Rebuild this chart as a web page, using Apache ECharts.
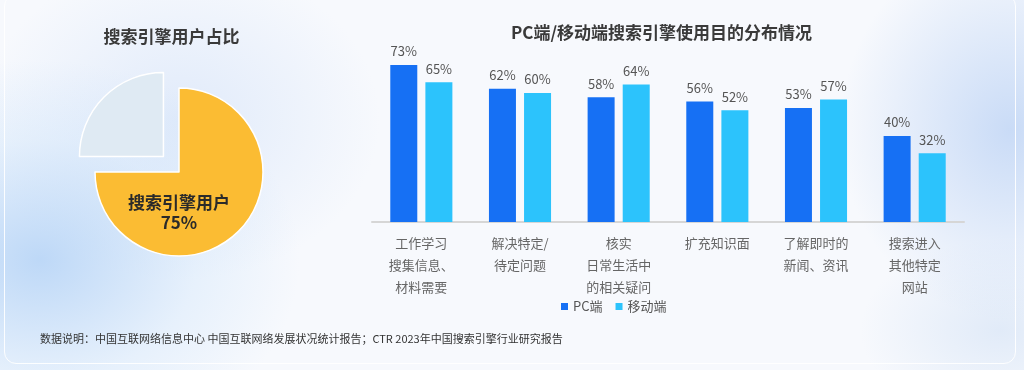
<!DOCTYPE html>
<html>
<head>
<meta charset="utf-8">
<script src="https://cdn.jsdelivr.net/npm/echarts@6/dist/echarts.min.js"></script>
<style>
html,body{margin:0;padding:0;width:1024px;height:370px;overflow:hidden;}
body{
  background:
    radial-gradient(ellipse 260px 200px at 40px 260px, rgba(170,205,245,0.75), rgba(200,225,250,0.35) 60%, rgba(255,255,255,0) 100%),
    radial-gradient(ellipse 200px 160px at 180px 120px, rgba(205,222,248,0.55), rgba(255,255,255,0) 100%),
    radial-gradient(ellipse 170px 190px at 1010px 130px, rgba(190,212,245,0.8), rgba(255,255,255,0) 100%),
    radial-gradient(ellipse 140px 90px at 1000px 330px, rgba(210,225,245,0.6), rgba(255,255,255,0) 100%),
    #f7f9fd;
}
#card{position:absolute;left:4px;top:-6px;width:1012px;height:370px;border:1px solid rgba(255,255,255,0.9);border-radius:12px;box-sizing:border-box;}
#chart{position:absolute;left:0;top:0;width:1024px;height:370px;}
</style>
</head>
<body>
<div id="card"></div>
<div id="chart"></div>
<script>
// ---- data ----
const pieTitle = '搜索引擎用户占比';
const pieNames = ['搜索引擎用户', '其他'];
const pieValues = [75, 25];

const barTitle = 'PC端/移动端搜索引擎使用目的分布情况';
const categories = [
  '工作学习\n搜集信息、\n材料需要',
  '解决特定/\n待定问题',
  '核实\n日常生活中\n的相关疑问',
  '扩充知识面',
  '了解即时的\n新闻、资讯',
  '搜索进入\n其他特定\n网站'
];
const seriesNames = ['PC端', '移动端'];
const pcValues = [73, 62, 58, 56, 53, 40];
const mobileValues = [65, 60, 64, 52, 57, 32];

const footnote = '数据说明：中国互联网络信息中心 中国互联网络发展状况统计报告；CTR 2023年中国搜索引擎行业研究报告';

// ---- chart ----
const FONT = '"Noto Sans CJK SC", "Noto Sans", sans-serif';
const chart = echarts.init(document.getElementById('chart'), null, {renderer: 'canvas'});
const option = {
  animation: false,
  backgroundColor: 'transparent',
  textStyle: {fontFamily: FONT},
  title: [
    {text: pieTitle, left: 171.5, top: 28, textAlign: 'center', padding: 0,
     textStyle: {fontSize: 17, fontWeight: 'bold', color: '#3a3a3a', fontFamily: FONT}},
    {text: barTitle, left: 661.5, top: 24, textAlign: 'center', padding: 0,
     textStyle: {fontSize: 17, fontWeight: 'bold', color: '#3a3a3a', fontFamily: FONT}},
    {text: pieNames[0] + '\n' + pieValues[0] + '%', left: 179, top: 193, textAlign: 'center', padding: 0,
     textStyle: {fontSize: 17, fontWeight: 'bold', color: '#2a2a2a', lineHeight: 20, fontFamily: FONT}},
    {text: footnote, left: 40, top: 333, padding: 0,
     textStyle: {fontSize: 11, fontWeight: 'normal', color: '#333', fontFamily: FONT}}
  ],
  legend: {
    data: seriesNames,
    left: 561, top: 300, padding: 0,
    icon: 'rect', itemWidth: 7, itemHeight: 7, itemGap: 13,
    textStyle: {fontSize: 13, color: '#555', fontFamily: FONT}
  },
  grid: {left: 372, right: 60, top: 7, bottom: 148, containLabel: false},
  xAxis: {
    type: 'category',
    data: categories,
    axisLine: {lineStyle: {color: '#d6d6d6', width: 2}},
    axisTick: {show: false},
    axisLabel: {interval: 0, color: '#666', fontSize: 13, lineHeight: 22, margin: 10, fontFamily: FONT}
  },
  yAxis: {type: 'value', min: 0, max: 100, show: false, splitLine: {show: false}},
  series: [
    {
      type: 'pie',
      center: [179, 172],
      radius: 84,
      startAngle: 90,
      clockwise: true,
      selectedMode: 'single',
      selectedOffset: 22,
      silent: true,
      label: {show: false},
      labelLine: {show: false},
      itemStyle: {borderColor: '#ffffff', borderWidth: 1.5},
      data: [
        {name: pieNames[0], value: pieValues[0], itemStyle: {color: '#fbbc33'}},
        {name: pieNames[1], value: pieValues[1], selected: true, itemStyle: {color: '#dfeaf3'}}
      ]
    },
    {
      name: seriesNames[0], type: 'bar', data: pcValues,
      barWidth: 27, barGap: '30%',
      itemStyle: {color: '#1670f4'},
      label: {show: true, position: 'top', distance: 7, formatter: '{c}%', fontSize: 13, color: '#555', fontFamily: FONT}
    },
    {
      name: seriesNames[1], type: 'bar', data: mobileValues,
      barWidth: 27, barGap: '30%',
      itemStyle: {color: '#2cc3fc'},
      label: {show: true, position: 'top', distance: 7, formatter: '{c}%', fontSize: 13, color: '#555', fontFamily: FONT}
    }
  ]
};
chart.setOption(option);
</script>
</body>
</html>
